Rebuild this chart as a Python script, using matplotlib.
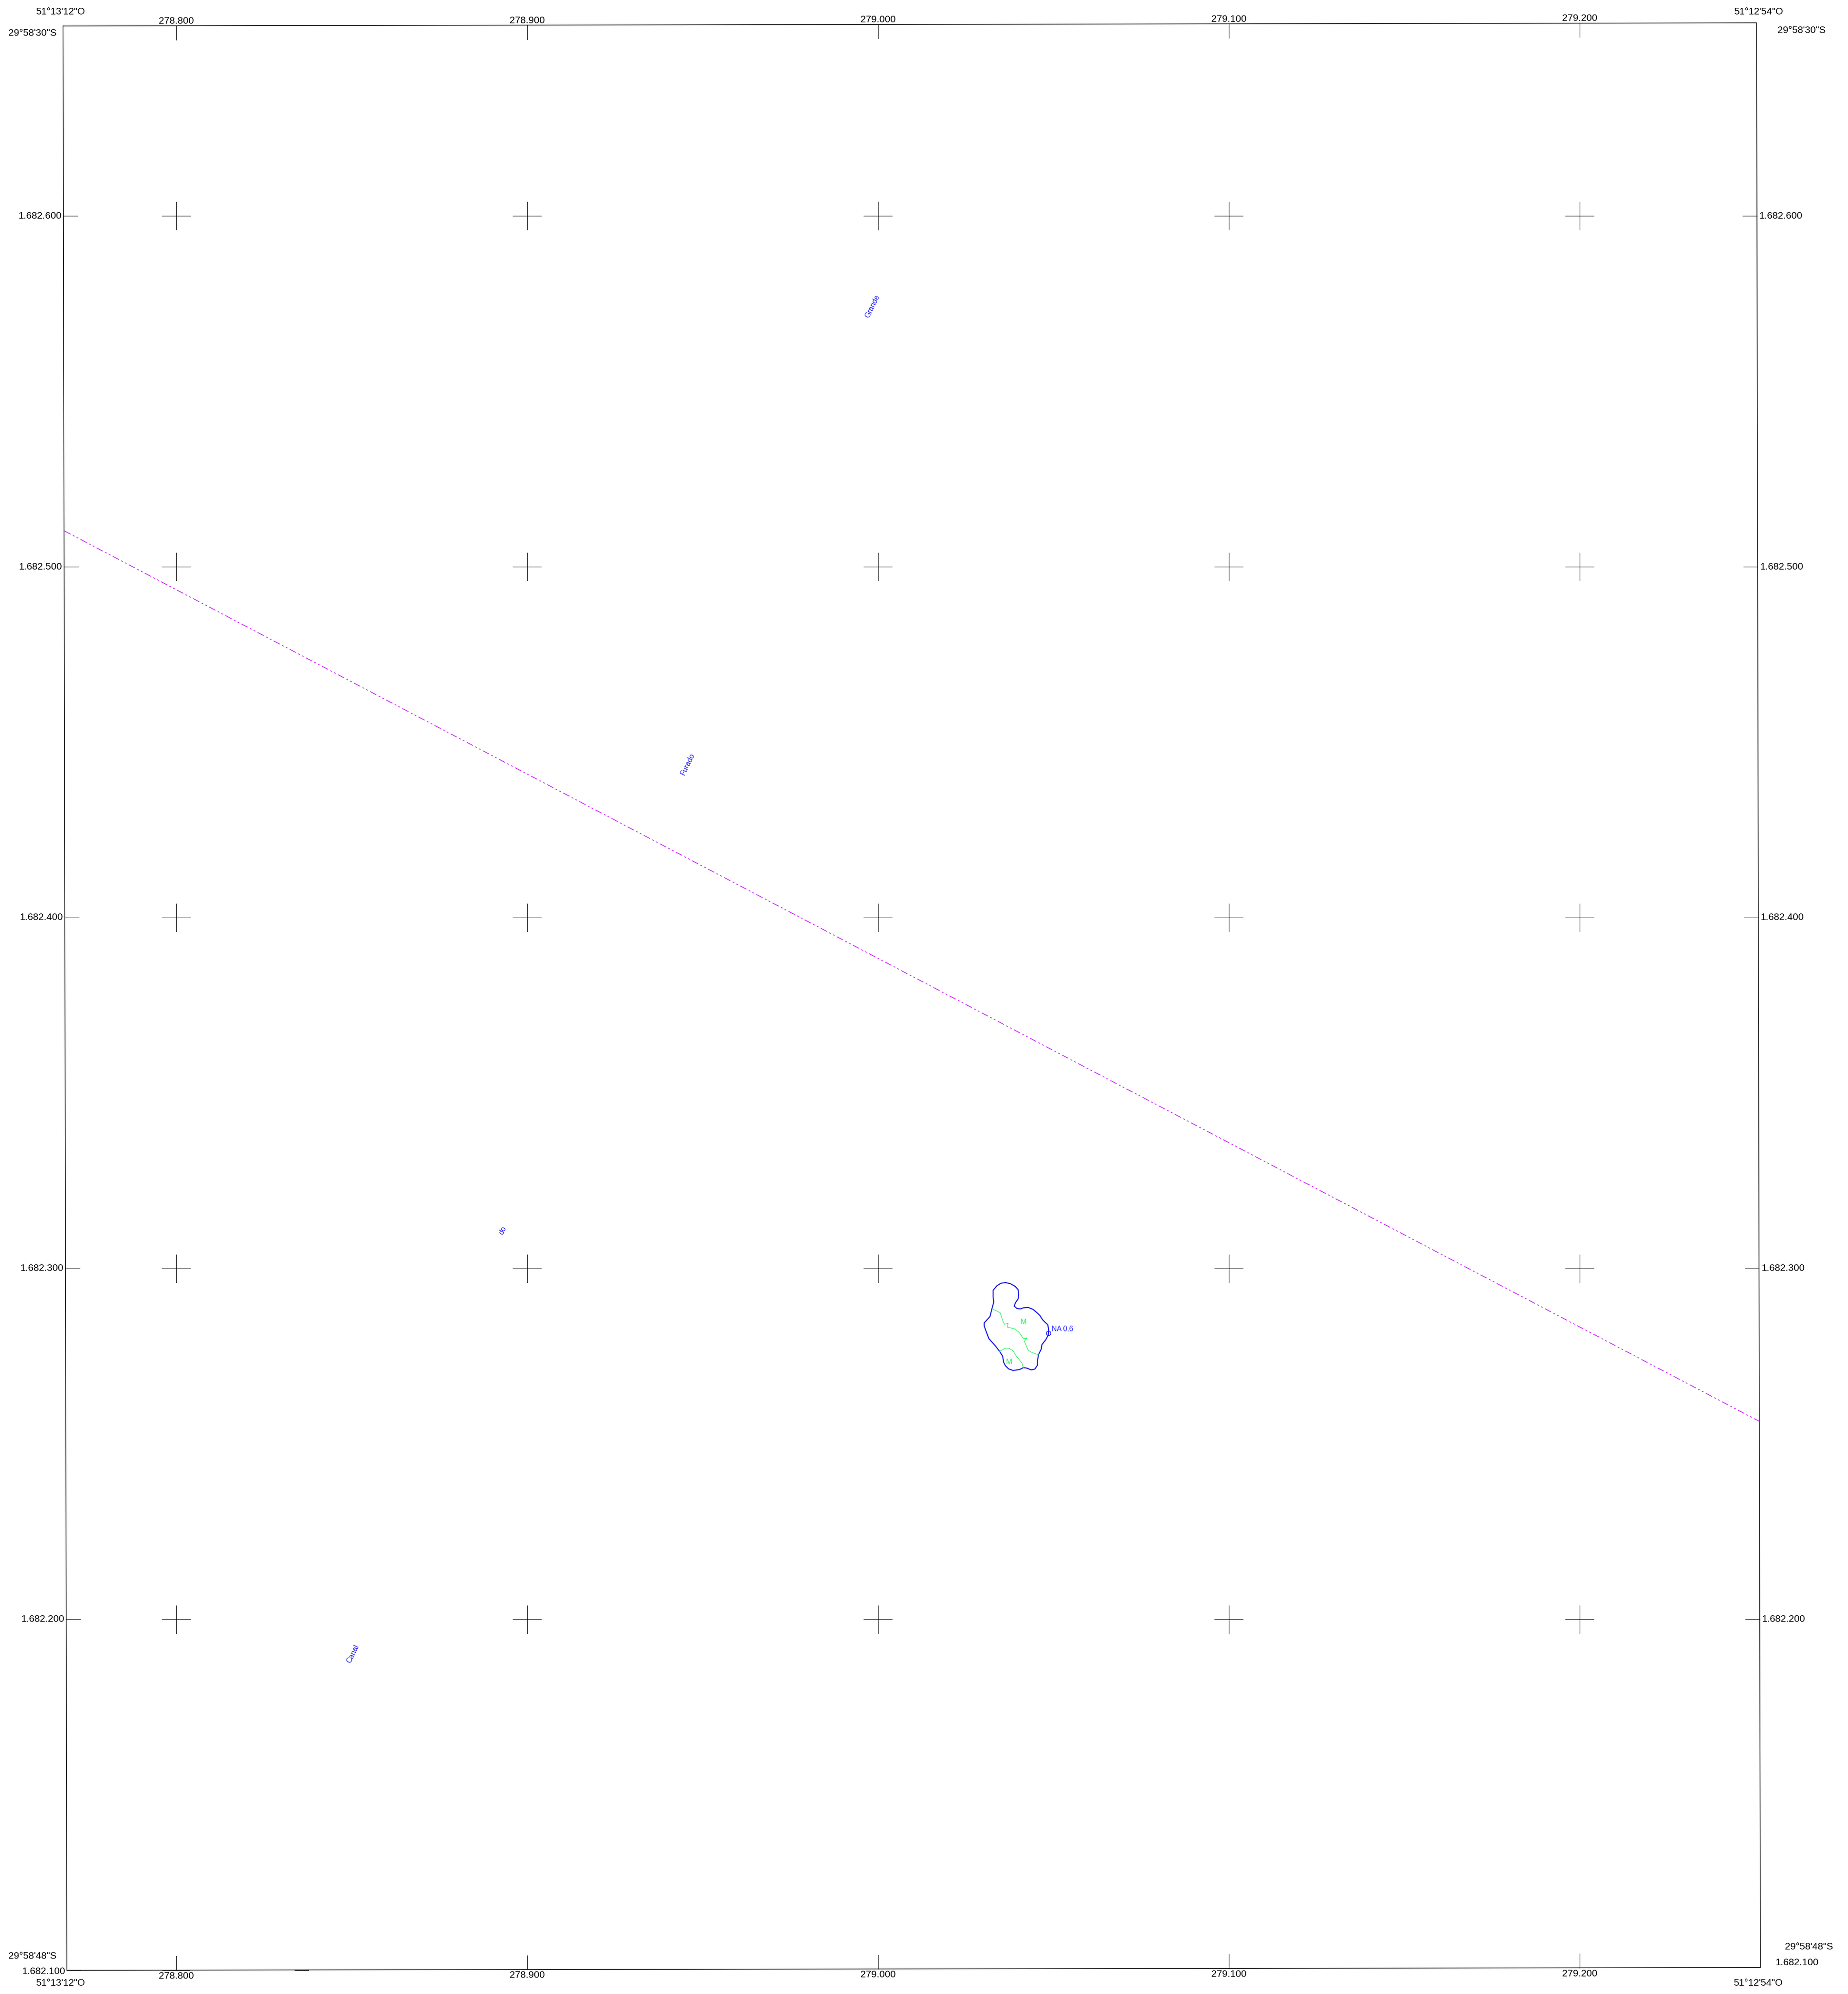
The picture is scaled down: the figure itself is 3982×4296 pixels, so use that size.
import numpy as np
import matplotlib
matplotlib.use('Agg')
import matplotlib.pyplot as plt

plt.rcParams['font.family'] = ['Liberation Sans', 'DejaVu Sans']
plt.rcParams['lines.scale_dashes'] = False

# Map coordinates in metres
eastings = [278800, 278900, 279000, 279100, 279200]
northings = [1682600, 1682500, 1682400, 1682300, 1682200]
east_labels = ['278.800', '278.900', '279.000', '279.100', '279.200']
north_labels = ['1.682.600', '1.682.500', '1.682.400', '1.682.300', '1.682.200']
bottom_label = '1.682.100'

# Sheet frame, slightly skewed: top left, top right, bottom right, bottom left
frame_e = [278767.7, 279250.4, 279251.5, 278768.8]
frame_n = [1682654.1, 1682655.0, 1682100.8, 1682100.0]

# Magenta line crossing the sheet
road_e = [278768.1, 279251.1]
road_n = [1682510.2, 1682256.5]

# Blue outline, metres past 279000 E and 1682000 N
lake_e = [36.3, 37.7, 39.1, 39.9, 40.1, 39.9, 39.2, 38.8, 39.6, 40.6, 41.4, 42.8, 44.1,
          45.2, 46.1, 46.9, 47.8, 48.4, 48.6, 48.5, 47.8, 46.7, 46.5, 45.7, 45.5, 45.4,
          44.7, 43.6, 42.5, 41.4, 40.3, 38.5, 37.2, 36.3, 35.8, 35.5, 34.7, 33.5, 31.6,
          30.8, 30.25, 30.25, 31.9, 32.45, 33.0, 32.8, 32.8, 33.9, 35.0, 36.3]
lake_n = [296.0, 295.7, 294.9, 294.0, 292.5, 291.3, 290.3, 289.3, 288.6, 288.5, 288.8,
          288.9, 288.4, 287.5, 286.65, 285.4, 284.5, 284.0, 282.55, 281.0, 279.7, 278.3,
          277.0, 275.4, 273.95, 272.4, 271.35, 271.1, 271.6, 271.75, 271.2, 270.95, 271.4,
          272.3, 273.3, 275.05, 276.3, 277.9, 280.0, 282.1, 283.65, 284.5, 286.3, 288.5,
          290.5, 291.8, 293.8, 295.1, 295.8, 296.0]

# Green lines inside the outline
green1_e = [32.6, 34.8, 35.45, 36.0, 37.1, 36.8, 39.0, 40.3, 41.4, 42.4, 41.7, 42.8, 43.8, 45.7]
green1_n = [288.5, 287.4, 285.4, 284.1, 284.4, 283.3, 282.8, 281.7, 280.0, 280.1, 279.3, 276.7, 276.1, 275.4]
green2_e = [34.6, 36.3, 37.35, 38.5, 39.4, 41.0, 41.4]
green2_n = [276.4, 277.3, 277.3, 276.5, 275.05, 273.1, 271.75]

# Point on the outline and its label
point_e, point_n = 279048.54, 1682281.66
point_label = 'NA 0,6'
point_label_e, point_label_n = 279049.5, 1682282.8

m_e = [279041.5, 279037.4]
m_n = [1682284.75, 1682273.4]

# Rotated blue names
name_labels = ['Grande', 'Furado', 'do', 'Canal']
name_e = [278998.4, 278945.8, 278893.0, 278850.3]
name_n = [1682574.2, 1682443.7, 1682310.8, 1682190.2]

# Short heavier pieces along the bottom edge
heavy_starts = [278768.8, 278796.0, 278833.7]
heavy_ends = [278772.8, 278804.0, 278837.8]

black = '#000000'
blue = '#1a1aff'
green = '#22f055'
tick_len = 4.03
px = 1 / 7.56  # metres per image pixel

fig = plt.figure(figsize=(39.82, 42.96), dpi=100)
ax = fig.add_axes([0, 0, 1, 1])
ax.set_xlim(278749.74, 279276.46)
ax.set_ylim(1682093.25, 1682661.51)
ax.axis('off')


# Frame edges, since the sheet is not perfectly square
def top_n(e):
    return np.interp(e, [frame_e[0], frame_e[1]], [frame_n[0], frame_n[1]])


def bottom_n(e):
    return np.interp(e, [frame_e[3], frame_e[2]], [frame_n[3], frame_n[2]])


def left_e(n):
    return np.interp(n, [frame_n[3], frame_n[0]], [frame_e[3], frame_e[0]])


def right_e(n):
    return np.interp(n, [frame_n[2], frame_n[1]], [frame_e[2], frame_e[1]])


ax.plot(frame_e + frame_e[:1], frame_n + frame_n[:1], color=black, lw=1.1, solid_joinstyle='miter')

# Grid crosses
for e in eastings:
    for n in northings:
        ax.plot([e - tick_len, e + tick_len], [n, n], color=black, lw=0.9)
        ax.plot([e, e], [n - tick_len, n + tick_len], color=black, lw=0.9)

# Edge ticks
for e, label in zip(eastings, east_labels):
    ax.plot([e, e], [top_n(e), top_n(e) - tick_len], color=black, lw=0.9)
    ax.plot([e, e], [bottom_n(e), bottom_n(e) + tick_len], color=black, lw=0.9)
    ax.text(e, top_n(e) + 10 * px, label, ha='center', va='center', fontsize=15.1, color='black')
    ax.text(e, bottom_n(e) - 12.5 * px, label, ha='center', va='center', fontsize=15.1, color='black')

for n, label in zip(northings, north_labels):
    ax.plot([left_e(n), left_e(n) + tick_len], [n, n], color=black, lw=0.9)
    ax.plot([right_e(n), right_e(n) - tick_len], [n, n], color=black, lw=0.9)
    ax.text(left_e(n) - 4 * px, n, label, ha='right', va='center', fontsize=15.1, color='black')
    ax.text(right_e(n) + 5 * px, n, label, ha='left', va='center', fontsize=15.1, color='black')

for start, end in zip(heavy_starts, heavy_ends):
    ax.plot([start, end], [1682100.0, 1682100.0], color='#111111', lw=1.3, solid_capstyle='butt')

# Corner labels
ax.text(278766.9, 1682658.2, '51°13\'12"O', ha='center', va='center', fontsize=15.1)
ax.text(278765.8, 1682652.1, '29°58\'30"S', ha='right', va='center', fontsize=15.1)
ax.text(279250.9, 1682658.2, '51°12\'54"O', ha='center', va='center', fontsize=15.1)
ax.text(279256.3, 1682652.9, '29°58\'30"S', ha='left', va='center', fontsize=15.1)
ax.text(278766.9, 1682096.4, '51°13\'12"O', ha='center', va='center', fontsize=15.1)
ax.text(278765.9, 1682104.0, '29°58\'48"S', ha='right', va='center', fontsize=15.1)
ax.text(278768.3, 1682099.7, bottom_label, ha='right', va='center', fontsize=15.1)
ax.text(279250.8, 1682096.4, '51°12\'54"O', ha='center', va='center', fontsize=15.1)
ax.text(279258.5, 1682106.7, '29°58\'48"S', ha='left', va='center', fontsize=15.1)
ax.text(279255.8, 1682102.2, bottom_label, ha='left', va='center', fontsize=15.1)

# Magenta dash-dot-dot line, dash lengths in points
ax.plot(road_e, road_n, color='#cc22ff', lw=1.2, dash_capstyle='butt',
        linestyle=(0, (10.8, 4.0, 2.9, 3.6, 2.9, 4.0)))

# Outline and inner lines
ax.plot(279000 + np.array(lake_e), 1682000 + np.array(lake_n), color='#1414e6', lw=1.6)
ax.plot(279000 + np.array(green1_e), 1682000 + np.array(green1_n), color=green, lw=0.9)
ax.plot(279000 + np.array(green2_e), 1682000 + np.array(green2_n), color=green, lw=0.9)
ax.plot([point_e], [point_n], 'o', mfc='none', mec='#1414e6', mew=1.1, ms=7)
ax.text(point_label_e, point_label_n, point_label, color=blue, fontsize=11.2, ha='left', va='center')

for e, n in zip(m_e, m_n):
    ax.text(e, n, 'M', color=green, fontsize=11.5, ha='center', va='center')

for label, e, n in zip(name_labels, name_e, name_n):
    ax.text(e, n, label, color=blue, fontsize=11.5, rotation=64, ha='center', va='center',
            rotation_mode='anchor')

fig.savefig('out.png', dpi=100, facecolor='white')
